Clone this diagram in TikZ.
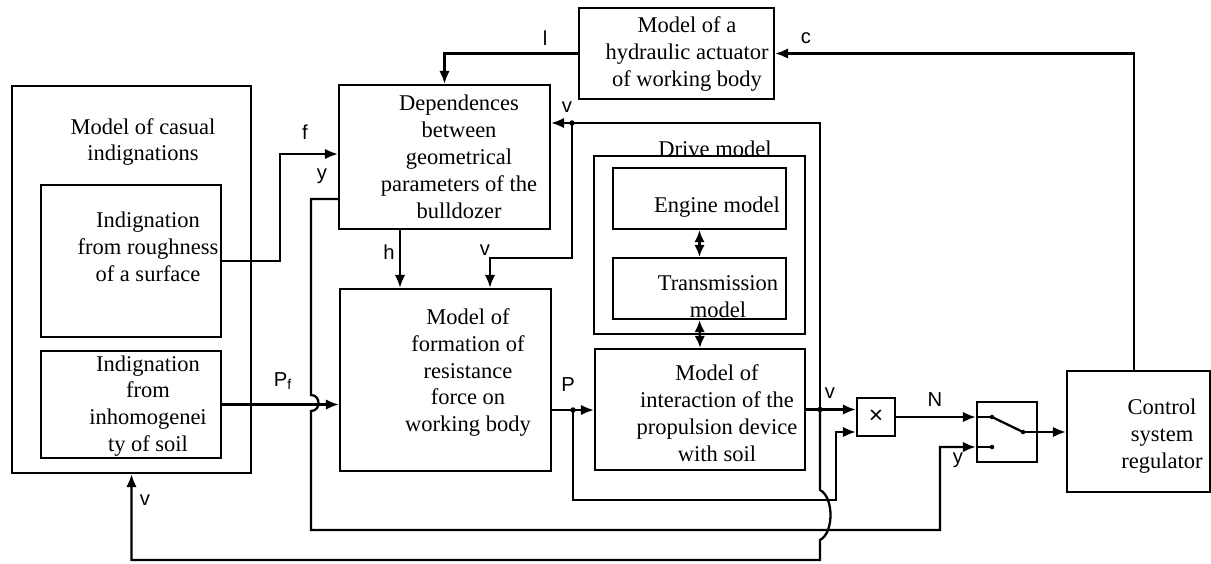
\documentclass[tikz,border=0pt]{standalone}
\usepackage{fontspec}
\setmainfont{Liberation Serif}
\setsansfont{Liberation Sans}
\usetikzlibrary{arrows.meta}

\begin{document}
\begin{tikzpicture}[x=0.2mm, y=-0.2mm, line width=1.3pt,
        blk/.style={draw, inner sep=0pt},
        txt/.style={align=center, inner sep=0pt, font=\fontsize{12.8}{15.3}\selectfont},
        lbl/.style={inner sep=0pt, font=\sffamily\fontsize{11.5}{13}\selectfont},
        arr/.style={-{Latex[length=2.6mm, width=2.1mm]}},
        dbl/.style={{Latex[length=2.4mm, width=2.1mm]}-{Latex[length=2.4mm, width=2.1mm]}},
        dot/.style={circle, fill, inner sep=0pt, minimum size=1.1mm}]
        \useasboundingbox (0,0) rectangle (1211,563);

        % blocks
        \draw (131.5,279.5) node[blk, minimum width=47.8mm, minimum height=77.4mm] (casual) {};
        \draw (131,261) node[blk, minimum width=36mm, minimum height=30.4mm] (rough) {};
        \draw (131,404.5) node[blk, minimum width=36mm, minimum height=21.4mm] (inhom) {};
        \draw (444.5,157) node[blk, minimum width=42.2mm, minimum height=28.8mm] (dep) {};
        \draw (676.5,53.5) node[blk, minimum width=39mm, minimum height=18.2mm] (act) {};
        \draw (445.5,380) node[blk, minimum width=42.2mm, minimum height=36.4mm] (form) {};
        \draw (699.5,245) node[blk, minimum width=42.2mm, minimum height=35.6mm] (drive) {};
        \draw (699.5,198.5) node[blk, minimum width=34.6mm, minimum height=12.2mm] (eng) {};
        \draw (699.5,288.5) node[blk, minimum width=34.6mm, minimum height=12.2mm] (trans) {};
        \draw (700,409.5) node[blk, minimum width=42mm, minimum height=24.2mm] (inter) {};
        \draw (876,417) node[blk, minimum width=7.6mm, minimum height=7.6mm, font=\sffamily\fontsize{14}{15}\selectfont] (mult) {×};
        \draw (1007,432) node[blk, minimum width=12mm, minimum height=12mm] (sw) {};
        \draw (1138.5,431.5) node[blk, minimum width=28.6mm, minimum height=24.2mm] (ctrl) {};

        % block texts
        \draw (143,142) node[txt] (casualtxt) {Model of casual\\indignations};
        \draw (148,247) node[txt] (roughtxt) {Indignation\\from roughness\\of a surface};
        \draw (148,406) node[txt] (inhomtxt) {Indignation\\from\\inhomogenei\\ty of soil};
        \draw (459,157) node[txt] (deptxt) {Dependences\\between\\geometrical\\parameters of the\\bulldozer};
        \draw (687,54) node[txt] (acttxt) {Model of a\\hydraulic actuator\\of working body};
        \draw (468,372.5) node[txt] (formtxt) {Model of\\formation of\\resistance\\force on\\working body};
        \draw (715,149) node[txt] (drivetxt) {Drive model};
        \draw (717,207) node[txt] (engtxt) {Engine model};
        \draw (718,296.5) node[txt] (transtxt) {Transmission\\model};
        \draw (717,413) node[txt] (intertxt) {Model of\\interaction of the\\propulsion device\\with soil};
        \draw (1162,436) node[txt] (ctrltxt) {Control\\system\\regulator};

        % switch contacts and junctions
        \draw (992,417) node[dot, minimum size=0.9mm] (c1) {};
        \draw (992,447) node[dot, minimum size=0.9mm] (c2) {};
        \draw (1023,432) node[dot, minimum size=0.9mm] (c3) {};
        \draw (820,409.5) node[dot] (jv) {};
        \draw (572,123) node[dot] (jdep) {};
        \draw (573,410) node[dot] (jp) {};

        % connectors
        \draw[arr] (rough.east) -- (280,261) |- (dep.west |- 0,154);
        \draw[arr] (inhom.east) -- (form.west |- inhom.east);
        \draw[arr] (dep.west |- 0,199) -- (311,199) -- (311,395) .. controls (321,395) and (321,411) .. (311,411) -- (311,530) -| (940,447) -- (sw.west |- 0,447);
        \draw[arr] (act.west) -| (dep.north);
        \draw[arr] (ctrl.north -| 1134,0) |- (act.east);
        \draw[arr] (dep.south -| 400,0) -- (form.north -| 400,0);
        \draw[arr] (jv.center) -- (820,123) -- (dep.east |- 0,123);
        \draw[arr] (jdep.center) -- (572,258) -| (form.north -| 490,0);
        \draw[arr] (jv.center) -- (820,490) .. controls (834,497) and (834,533) .. (820,540) -- (820,560) -| (casual.south);
        \draw[arr] (form.east |- 0,410) -- (inter.west |- 0,410);
        \draw[arr] (jp.center) |- (836,500) |- (mult.west |- 0,432);
        \draw[arr] (inter.east) -- (mult.west |- inter.east);
        \draw[arr] (mult.east) -- (sw.west |- mult.east);
        \draw (sw.west |- mult.east) -- (c1.center);
        \draw (sw.west |- 0,447) -- (c2.center);
        \draw (c1.center) -- (c3.center);
        \draw[arr] (c3.center) -- (ctrl.west |- c3.center);
        \draw[dbl] (eng.south) -- (trans.north);
        \draw[dbl] (trans.south) -- (inter.north);

        % signal labels
        \draw (305,132) node[lbl] (flbl) {f};
        \draw (322,176) node[lbl] (ylbl) {y};
        \draw (283,381) node[lbl] (pflbl) {P\textsubscript{f}};
        \draw (389,252) node[lbl] (hlbl) {h};
        \draw (485,250) node[lbl] (vlbl) {v};
        \draw (567,107) node[lbl] (vdeplbl) {v};
        \draw (545,38) node[lbl] (llbl) {l};
        \draw (806,38) node[lbl] (clbl) {c};
        \draw (568,385) node[lbl] (plbl) {P};
        \draw (830,393) node[lbl] (voutlbl) {v};
        \draw (935,400) node[lbl] (nlbl) {N};
        \draw (958,460) node[lbl] (yswlbl) {y};
        \draw (145,500) node[lbl] (vbotlbl) {v};
    \end{tikzpicture}
\end{document}
